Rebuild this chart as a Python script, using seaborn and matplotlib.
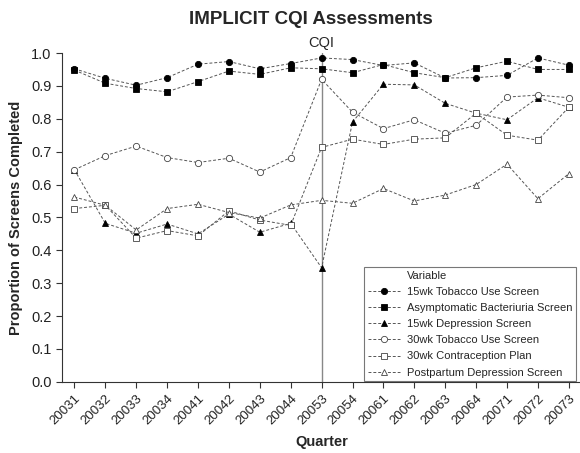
import pandas as pd
import seaborn as sns
import matplotlib
matplotlib.use("Agg")
import matplotlib.pyplot as plt
from matplotlib.lines import Line2D

# data
quarters = ['20031', '20032', '20033', '20034', '20041', '20042', '20043', '20044', '20053',
            '20054', '20061', '20062', '20063', '20064', '20071', '20072', '20073']

tobacco_15wk = [0.952, 0.923, 0.902, 0.925, 0.966, 0.974, 0.952, 0.968, 0.985,
                0.980, 0.962, 0.970, 0.924, 0.925, 0.932, 0.985, 0.963]
bacteriuria = [0.948, 0.908, 0.892, 0.882, 0.913, 0.945, 0.935, 0.955, 0.952,
               0.940, 0.965, 0.940, 0.925, 0.955, 0.975, 0.950, 0.950]
depression_15wk = [0.645, 0.482, 0.452, 0.480, 0.450, 0.510, 0.455, 0.482, 0.347,
                   0.790, 0.905, 0.903, 0.847, 0.817, 0.797, 0.864, 0.835]
tobacco_30wk = [0.645, 0.688, 0.717, 0.682, 0.667, 0.680, 0.638, 0.682, 0.920,
                0.820, 0.770, 0.797, 0.756, 0.780, 0.866, 0.872, 0.864]
contraception_30wk = [0.527, 0.537, 0.437, 0.460, 0.444, 0.520, 0.492, 0.476, 0.713,
                      0.738, 0.722, 0.738, 0.742, 0.817, 0.750, 0.735, 0.835]
postpartum = [0.562, 0.537, 0.462, 0.527, 0.540, 0.515, 0.498, 0.538, 0.552,
              0.543, 0.588, 0.550, 0.568, 0.600, 0.662, 0.557, 0.633]

series_names = ['15wk Tobacco Use Screen', 'Asymptomatic Bacteriuria Screen',
                '15wk Depression Screen', '30wk Tobacco Use Screen',
                '30wk Contraception Plan', 'Postpartum Depression Screen']
series_values = [tobacco_15wk, bacteriuria, depression_15wk, tobacco_30wk,
                 contraception_30wk, postpartum]
series_markers = ['o', 's', '^', 'o', 's', '^']
series_filled = [True, True, True, False, False, False]

sns.set_style("ticks")
plt.rcParams['font.family'] = ['Liberation Sans', 'DejaVu Sans']

fig = plt.figure(figsize=(5.8, 4.53), dpi=100)
ax = fig.add_axes([0.107, 0.157, 0.895, 0.726])

handles = [Line2D([], [], color='none', label='Variable')]
for name, vals, mk, filled in zip(series_names, series_values, series_markers, series_filled):
    df = pd.DataFrame({'Quarter': quarters, 'Proportion': vals})
    msize = 4.5 if mk != 's' else 4
    style = dict(color='#555555', linewidth=0.7, dashes=(3, 2), marker=mk, markersize=msize,
                 markerfacecolor='black' if filled else 'white',
                 markeredgecolor='black' if filled else '#444444', markeredgewidth=0.6)
    sns.lineplot(data=df, x='Quarter', y='Proportion', ax=ax, sort=False, **style)
    handles.append(Line2D([], [], label=name, linestyle=(0, (3, 2)),
                          **{k: v for k, v in style.items() if k != 'dashes'}))

ax.axvline(8, color='#888888', linewidth=1, zorder=0)
ax.text(8, 1.01, 'CQI', ha='center', va='bottom', fontsize=10.5, clip_on=False)

ax.set_xlim(-0.4, 16.4)
ax.set_ylim(0, 1.0)
ax.set_yticks([i / 10 for i in range(11)])
ax.set_yticklabels([f'{i / 10:.1f}' for i in range(11)], fontsize=10.5)
ax.set_xticks(range(len(quarters)))
ax.set_xticklabels(quarters, rotation=45, ha='right', rotation_mode='anchor', fontsize=9.5)
ax.tick_params(length=4, width=0.8, colors='#333333', labelcolor='#222222')
ax.set_xlabel('Quarter', fontsize=10.5, fontweight='bold', labelpad=6)
ax.set_ylabel('Proportion of Screens Completed', fontsize=10.5, fontweight='bold', labelpad=6)
sns.despine(ax=ax)
for sp in ax.spines.values():
    sp.set_color('#333333')
    sp.set_linewidth(0.8)

leg = ax.legend(handles=handles, loc='upper left', bbox_to_anchor=(364 / 580, 1 - 267 / 453),
                bbox_transform=fig.transFigure, borderaxespad=0, fontsize=8, frameon=True,
                fancybox=False, handlelength=2.9, labelspacing=0.55, handletextpad=0.6,
                borderpad=0.35, numpoints=1)
leg.get_frame().set_edgecolor('#555555')
leg.get_frame().set_linewidth(0.8)

fig.text(311 / 580, 1 - 20 / 453, 'IMPLICIT CQI Assessments', ha='center', va='center',
         fontsize=13.5, fontweight='bold')

plt.savefig('out.png', dpi=100)
